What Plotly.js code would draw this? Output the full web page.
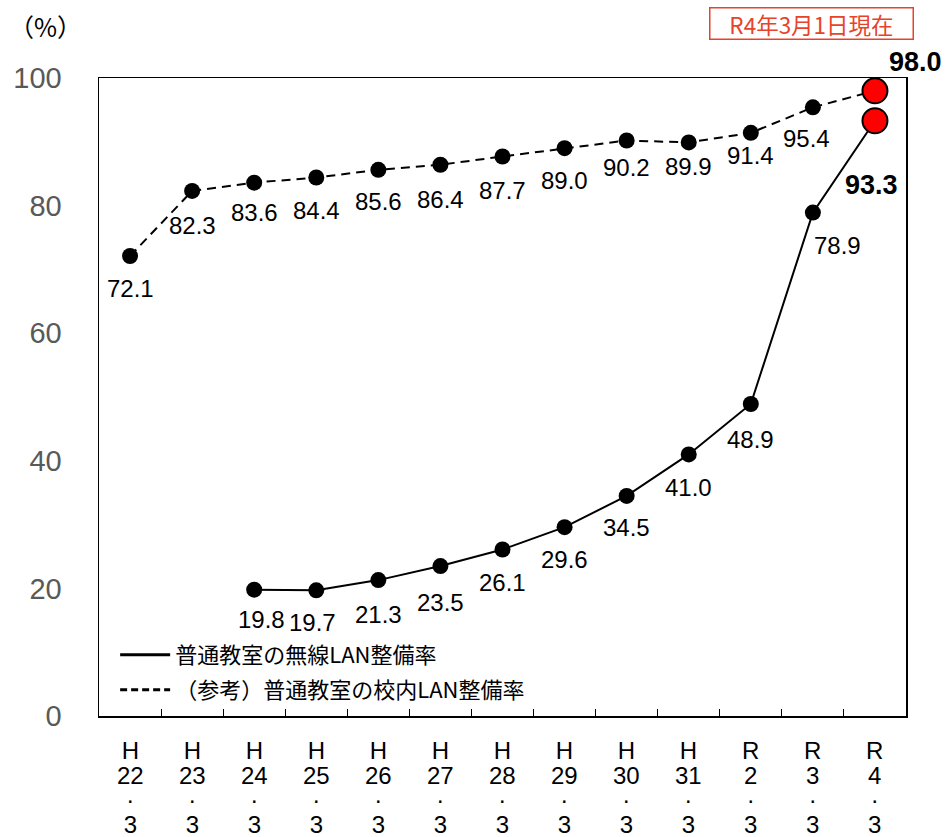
<!DOCTYPE html>
<html><head><meta charset="utf-8">
<script src="https://cdn.plot.ly/plotly-3.0.1.min.js"></script>
<style>html,body{margin:0;padding:0;background:#fff}#c{width:945px;height:837px}</style>
</head><body><div id="c"></div>
<script>
// ---- data ----
const eras = ["H","H","H","H","H","H","H","H","H","H","R","R","R"];
const years = ["22","23","24","25","26","27","28","29","30","31","2","3","4"];
const months = ["3","3","3","3","3","3","3","3","3","3","3","3","3"];
const categories = eras.map((e,i)=> e + years[i] + "." + months[i]);
const lanRate = [72.1,82.3,83.6,84.4,85.6,86.4,87.7,89.0,90.2,89.9,91.4,95.4,98.0];
const wirelessRate = [null,null,19.8,19.7,21.3,23.5,26.1,29.6,34.5,41.0,48.9,78.9,93.3];
const nameWireless = "普通教室の無線LAN整備率";
const nameLan = "（参考）普通教室の校内LAN整備率";
const stampText = "R4年3月1日現在";
const unitText = "（%）";

// ---- label placement (pixel offsets, style only) ----
const lanDy = [34,37,32,35,34,37,36,34,29,26,25,33,null];
const lanDx = [0,0,0,0,0,0,0,0,0,0,0,-6,null];
const wDy = [null,null,32,34,36,38,35,34,34,35,37,35,null];
const wDx = [null,null,7,-4,0,0,0,0,0,0,0,25,null];

const F = "Liberation Sans, Arial, Noto Sans CJK JP, sans-serif";
const JF = "Noto Sans CJK JP, Liberation Sans, sans-serif";
const last = categories.length - 1;
const mColor = categories.map((c,i)=> i===last ? "#ff0000" : "#000000");
const mSize = categories.map((c,i)=> i===last ? 25 : 16);
const mLine = categories.map((c,i)=> i===last ? 2 : 0);

const traces = [
 {x:categories, y:lanRate, type:"scatter", mode:"lines+markers", showlegend:false,
  line:{color:"#000", width:2, dash:"9px,6px"},
  marker:{color:mColor, size:mSize, opacity:1, line:{color:"#000", width:mLine}}},
 {x:categories, y:wirelessRate, type:"scatter", mode:"lines+markers", showlegend:false,
  line:{color:"#000", width:2},
  marker:{color:mColor, size:mSize, opacity:1, line:{color:"#000", width:mLine}}},
 {x:[null], y:[null], type:"scatter", mode:"lines", name:nameWireless, legend:"legend", line:{color:"#000", width:3}},
 {x:[null], y:[null], type:"scatter", mode:"lines", name:nameLan, legend:"legend2", line:{color:"#000", width:3, dash:"7px,4px"}}
];

const annotations = [];
lanRate.forEach((v,i)=>{
  if(i===last){
    annotations.push({x:categories[i], y:v, text:"<b>"+v.toFixed(1)+"</b>", showarrow:false,
      xshift:41, yshift:29, font:{family:F, size:27, color:"#000"}});
  } else {
    annotations.push({x:categories[i], y:v, text:v.toFixed(1), showarrow:false,
      xshift:lanDx[i], yshift:-(lanDy[i]-2), font:{family:F, size:24, color:"#000"}});
  }
});
wirelessRate.forEach((v,i)=>{
  if(v===null) return;
  if(i===last){
    annotations.push({x:categories[i], y:v, text:"<b>"+v.toFixed(1)+"</b>", showarrow:false,
      xshift:-3, yshift:-64, font:{family:F, size:27, color:"#000"}});
  } else {
    annotations.push({x:categories[i], y:v, text:v.toFixed(1), showarrow:false,
      xshift:wDx[i], yshift:-(wDy[i]-2), font:{family:F, size:24, color:"#000"}});
  }
});
// x-axis category labels (stacked, one block per category)
const big = s => "<span style='font-size:24px'>" + s + "</span>";
categories.forEach((c,i)=>{
  annotations.push({x:c, xref:"x", yref:"paper", y:0, yanchor:"middle", yshift:-71, showarrow:false,
    borderpad:0, text: big(eras[i]) + "<br>" + big(years[i]) + "<br>" + big("·") + "<br>" + big(months[i]),
    font:{family:F, size:19, color:"#000"}});
});
annotations.push({xref:"paper", yref:"paper", x:1.01, y:1.0, yshift:55, xanchor:"right", yanchor:"middle",
  text:stampText, showarrow:false, font:{family:JF, size:22.5, color:"#e8432a"},
  bordercolor:"#e8432a", borderwidth:1.5, borderpad:2, bgcolor:"#fff", width:198, height:26});
annotations.push({xref:"paper", yref:"paper", x:-0.0657, y:1.0, yshift:52, xanchor:"center", yanchor:"middle",
  text:unitText, showarrow:false, font:{family:JF, size:25, color:"#000"}});

const legStyle = (y)=>({x:0.02, y:y, xanchor:"left", yanchor:"middle", bgcolor:"rgba(0,0,0,0)",
    font:{family:JF, size:22, color:"#000"}, itemwidth:50});

const layout = {
  width:945, height:837,
  margin:{l:99, r:39, t:78, b:121},
  paper_bgcolor:"#fff", plot_bgcolor:"#fff",
  font:{family:F},
  xaxis:{type:"category", range:[-0.5, last+0.5], showline:true, linecolor:"#000", linewidth:1.5, mirror:true,
    ticks:"inside", tickson:"boundaries", ticklen:7, tickcolor:"#000", tickwidth:1,
    showticklabels:false, showgrid:false, zeroline:false, automargin:false},
  yaxis:{range:[0,100], dtick:20, showline:true, linecolor:"#000", linewidth:1.5, mirror:true,
    ticks:"outside", ticklen:30, tickcolor:"rgba(0,0,0,0)",
    tickfont:{family:F, size:29, color:"#595959"}, showgrid:false, zeroline:false, automargin:false},
  legend:legStyle(0.0956),
  legend2:legStyle(0.0408),
  annotations:annotations,
  showlegend:true
};
Plotly.newPlot("c", traces, layout, {displayModeBar:false, staticPlot:true});
</script></body></html>
